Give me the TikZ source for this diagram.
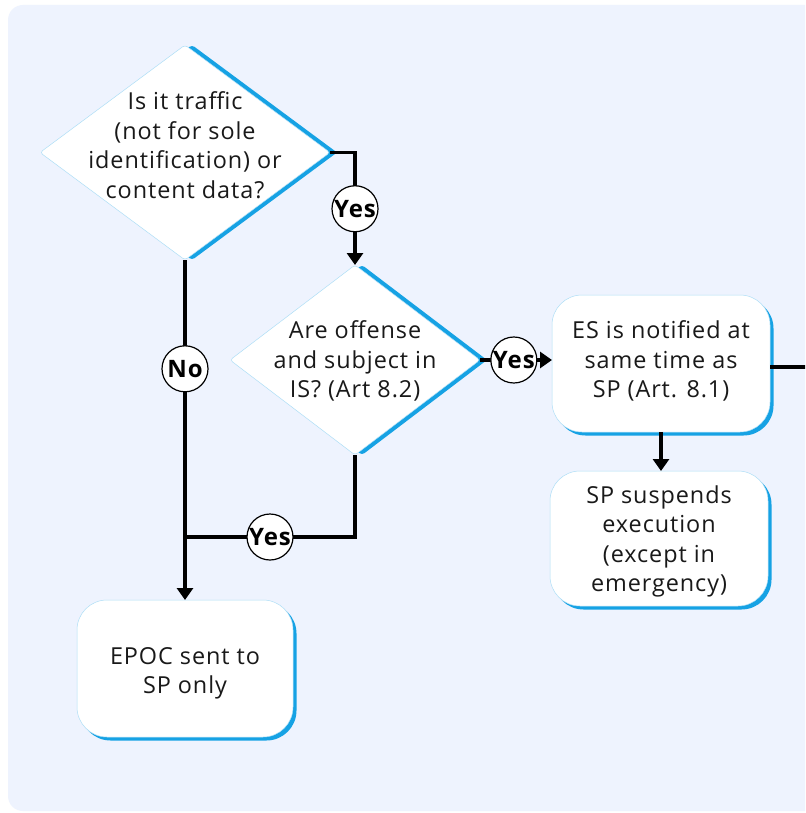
\documentclass[tikz,border=0pt]{standalone}
\usepackage{fontspec}
\setmainfont{Open Sans}[LetterSpace=4]
\usetikzlibrary{shapes.geometric,arrows.meta}
\definecolor{panel}{RGB}{238,243,254}
\definecolor{skyb}{RGB}{22,162,228}
\tikzset{
  body/.style={font=\fontsize{23.4}{29.5}\selectfont, text=black!90},
  dia/.style={diamond, fill=white, draw=skyb!35, line width=0.5pt, outer sep=0pt,
    inner sep=0pt, rounded corners=3pt,
    preaction={fill=skyb, transform canvas={xshift=7pt}}},
  box/.style={rectangle, rounded corners=30pt, fill=white, draw=skyb!35, line width=0.5pt,
    outer sep=0pt, align=center, body,
    preaction={fill=skyb, transform canvas={xshift=3.5pt,yshift=-3.5pt}}},
  btext/.style={align=center, body},
  lab/.style={circle, draw=black, line width=1.2pt, fill=white, minimum size=46pt,
    inner sep=0pt, font=\fontsize{24}{26}\selectfont\bfseries},
  conn/.style={line width=3.5pt, black},
  arr/.style={conn, -{Triangle[width=16pt,length=12pt]}}
}
\begin{document}
\begin{tikzpicture}[x=1pt,y=-1pt]
  % page and panel
  \path[use as bounding box, fill=white] (0,0) rectangle (805,813);
  \clip (0,0) rectangle (805,813);
  \fill[panel, rounded corners=15pt] (8,5) rectangle (860,811);

  % decisions
  \node[dia, minimum width=290pt, minimum height=215pt] (d1) at (185,152.5) {};
  \node[btext] (t1) at (185,145) {Is it traffic\\(not for sole\\identification) or\\content data?};
  \node[dia, minimum width=250pt, minimum height=190pt] (d2) at (355,360) {};
  \node[btext] (t2) at (355,361) {Are offense\\and subject in\\IS? (Art 8.2)};

  % outcomes
  \node[box, minimum width=218pt, minimum height=137pt] (b1) at (661,363.5) {};
  \node[btext] (t3) at (661,361) {ES is notified at\\same time as\\SP (Art. 8.1)};
  \node[box, minimum width=218pt, minimum height=135pt] (b2) at (659,538.5) {};
  \node[btext] (t4) at (659,541.5) {SP suspends\\execution\\(except in\\emergency)};
  \node[box, minimum width=216pt, minimum height=137pt] (b3) at (185,668.5) {};
  \node[btext] (t5) at (185,673.5) {EPOC sent to\\SP only};

  \coordinate (join) at (185,537);
  \coordinate (out) at (810,367);

  % connectors
  \draw[arr] (d1.east) -| node[lab, pos=0.75] {Yes} (d2.north);
  \draw[arr] (d1.south) -- node[lab, pos=0.32] {No} (b3.north);
  \draw[conn] (d2.south) |- node[lab, pos=0.75] {Yes} (join);
  \draw[arr] (d2.east) -- node[lab, pos=0.47] {Yes} (d2.east -| b1.west);
  \draw[arr] (b1.south) -- (b1.south |- b2.north);
  \draw[conn] (b1.east |- out) -- (out);
\end{tikzpicture}
\end{document}
